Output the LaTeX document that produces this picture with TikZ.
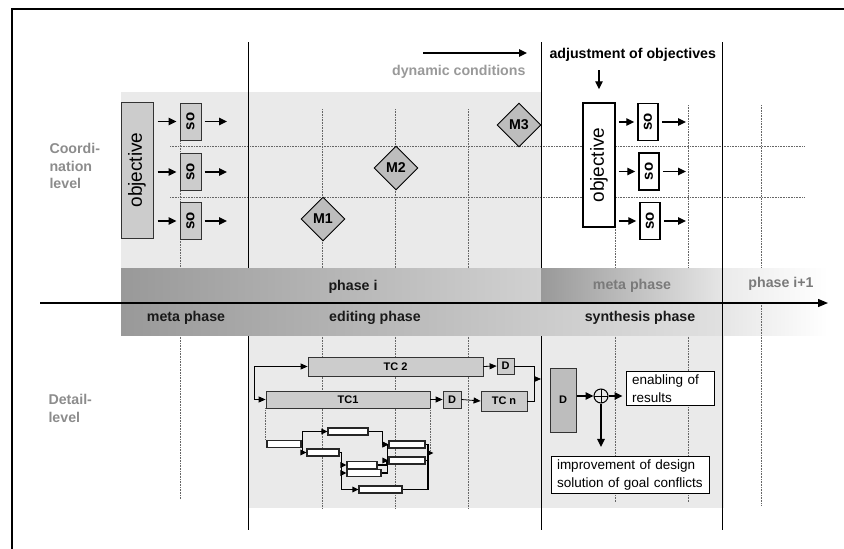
\documentclass[tikz,border=0pt]{standalone}
\usepackage{fontspec}
\setmainfont{Liberation Sans}
\usepackage{graphicx}
\usetikzlibrary{arrows.meta, positioning, shapes.geometric, calc}
\definecolor{bgfill}{HTML}{EAEAEA}
\definecolor{boxfill}{HTML}{CCCCCC}
\definecolor{mfill}{HTML}{BDBDBD}
\definecolor{bardark}{HTML}{999999}
\definecolor{labgray}{HTML}{8C8C8C}
\definecolor{metagray}{HTML}{7A7A7A}

\begin{document}
\begin{tikzpicture}[
    x=1pt, y=-1pt,
    >={Triangle[length=8pt, width=7.5pt]},
    every node/.style={font=\fontsize{13.5}{17}\selectfont},
    lbl/.style ={font=\bfseries\fontsize{14.2}{17.5}\selectfont},
    glbl/.style={lbl, text=labgray},
    obj/.style ={draw=black!80, line width=1pt, fill=boxfill, inner sep=0pt,
                 font=\fontsize{19}{19}\selectfont},
    sob/.style ={draw=black!80, line width=1pt, fill=boxfill, inner sep=0pt,
                 minimum width=21pt, minimum height=37pt,
                 font=\bfseries\fontsize{15}{15}\selectfont},
    ms/.style  ={draw, diamond, fill=mfill, line width=0.9pt, minimum size=44pt,
                 inner sep=0pt, lbl},
    tc/.style  ={draw=black!80, line width=0.8pt, fill=boxfill, inner sep=0pt,
                 font=\bfseries\fontsize{11}{12}\selectfont},
    res/.style ={draw, line width=1pt, fill=white, align=left, inner xsep=6pt,
                 inner ysep=3pt, font=\fontsize{13.5}{18.5}\selectfont},
    tk/.style  ={draw=black!85, line width=1.1pt, fill=white, minimum height=7pt,
                 inner sep=0pt},
    flow/.style={->, line width=1.3pt},
    tflow/.style={-{Triangle[length=7pt, width=6pt]}, line width=0.8pt},
    nflow/.style={-{Triangle[length=6pt, width=5.5pt]}, line width=1.3pt},
    net/.style ={line width=1.3pt},
    dotl/.style={densely dotted, line width=0.6pt, black!60},
    phase/.style={line width=1pt},
]
\useasboundingbox (0,0) rectangle (844,549);
\draw[line width=1.6pt] (12,549) -- (12,9) -- (844,9);

\fill[bgfill] (121,92) rectangle (541,268);
\fill[bgfill] (248,335) rectangle (724,508);

\foreach \x/\a/\b in {180/103/268, 322/109/268, 395/109/268, 468/109/268,
                      615/227/268, 688/105/268, 761/105/268,
                      180/335/499, 322/335/508, 395/335/508, 468/335/508,
                      615/335/502, 688/335/502}
  \draw[dotl] (\x,\a) -- (\x,\b);
\foreach \y in {146,197}
  \draw[dotl] (170,\y) -- (804,\y);

\coordinate (b1) at (248,42);
\coordinate (b2) at (541,42);
\coordinate (b3) at (722,42);
\foreach \b in {b1,b2}
  \draw[phase] (\b) -- ++(0,488);

\shade[left color=bardark, right color=black!18] (121,268) rectangle (541,303);
\shade[left color=bardark, right color=black!10] (541,268) rectangle (722,303);
\shade[left color=black!8, right color=white] (722,268) rectangle (828,303);
\shade[left color=bardark, middle color=black!18, right color=black!12] (121,303) rectangle (722,335);
\shade[left color=black!10, right color=white] (722,303) rectangle (828,335);
\draw[phase] (b3) -- ++(0,488);
\draw[dotl] (761,303) -- (761,505);

\coordinate (axS) at (40,303);
\coordinate (axE) at (828,303);
\draw[line width=1.3pt, -{Triangle[length=10pt, width=8pt]}] (axS) -- (axE);

\node[lbl, text=black!90] (phi)   at (353,287) {phase i};
\node[lbl, text=black!90] (metaL) at (186,318) {meta phase};
\node[lbl, text=black!90] (edit)  at (375,318) {editing phase};
\node[lbl, text=metagray] (metaR) at (632,286) {meta phase};
\node[lbl, text=metagray] (phn)   at (781,284) {phase i+1};
\node[lbl, text=black!90] (synth) at (640,318) {synthesis phase};

\node[glbl, anchor=north west, align=left] (coord) at (46,140) {Coordi-\\nation\\level};
\node[glbl, anchor=north west, align=left] (detl)  at (45,391) {Detail-\\level};

\node[glbl, anchor=base east, text=black!40] (dyn) at (529,75) {dynamic conditions};
\coordinate (dynS) at (423,53);
\coordinate (dynE) at (527,53);
\draw[flow] (dynS) -- (dynE);
\node[lbl, anchor=base west] (adj) at (546,58) {adjustment of objectives};

\node[obj, minimum width=32pt, minimum height=136pt] (objL) at (137,170) {\rotatebox{90}{objective}};
\node[sob] (soL1) at (190.5,121.5) {\rotatebox{90}{so}};
\node[sob] (soL2) at (190.5,172)   {\rotatebox{90}{so}};
\node[sob] (soL3) at (190.5,221)   {\rotatebox{90}{so}};
\node[obj, fill=white, draw=black, line width=1.5pt, minimum width=32pt,
      minimum height=124pt] (objR) at (599,165) {\rotatebox{90}{objective}};
\node[sob, fill=white, draw=black, line width=1.5pt, minimum width=20pt] (soR1) at (648,122)   {\rotatebox{90}{so}};
\node[sob, fill=white, draw=black, line width=1.5pt, minimum width=20pt] (soR2) at (649,171.5) {\rotatebox{90}{so}};
\node[sob, fill=white, draw=black, line width=1.5pt, minimum width=20pt] (soR3) at (650,221)   {\rotatebox{90}{so}};

\coordinate (endL) at (227,0);
\coordinate (endR) at (686,0);
\foreach \i in {1,2,3}{
  \draw[flow, shorten <=4pt, shorten >=3pt] (objL.east |- soL\i) -- (soL\i.west);
  \draw[flow, shorten <=3pt] (soL\i.east) -- (soL\i.east -| endL);
  \draw[flow, shorten <=3pt, shorten >=3pt] (objR.east |- soR\i) -- (soR\i.west);
  \draw[flow, shorten <=3pt] (soR\i.east) -- (soR\i.east -| endR);
}
\draw[flow, shorten <=6pt, shorten >=13pt] (adj.south -| objR) -- (objR.north);

\node[ms] (M1) at (323,219) {M1};
\node[ms] (M2) at (396,168) {M2};
\node[ms] (M3) at (519,125) {M3};

\node[tc, minimum width=175pt, minimum height=19pt] (TC2) at (395.5,366.5) {TC 2};
\node[tc, minimum width=164pt, minimum height=17pt] (TC1) at (348,399.5)   {TC1};
\node[tc, minimum width=17pt,  minimum height=16pt] (D2)  at (505.5,366)   {D};
\node[tc, minimum width=18pt,  minimum height=17pt] (D1)  at (452,399.5)   {D};
\node[tc, minimum width=46pt,  minimum height=20pt] (TCn) at (504,401)     {TC n};
\coordinate (tcs) at (254,382);
\draw[tflow] (tcs) |- (TC2.west);
\draw[tflow] (tcs) |- (TC1.west);
\draw[tflow] (TC2.east) -- (D2.west);
\draw[tflow] (TC1.east) -- (D1.west);
\draw[tflow] (D1.east) -- (TCn.west);
\coordinate (jn) at (534,379);
\draw[line width=0.8pt] (D2.east) -| (jn) (TCn.east) -| (jn);
\draw[tflow] (jn) -- (jn -| b2);

\node[tc, fill=mfill, line width=1pt, minimum width=26pt, minimum height=64pt] (Db) at (563,400) {D};
\node[circle, draw, line width=1pt, minimum size=14pt, inner sep=0pt,
      path picture={\draw[line width=1pt]
        (path picture bounding box.north) -- (path picture bounding box.south)
        (path picture bounding box.west) -- (path picture bounding box.east);}] (plus) at (601,396) {};
\node[res, text width=76pt]  (enab) at (670,388.5) {enabling of\\results};
\node[res, text width=146pt] (impr) at (630,475)   {improvement of design\\solution of goal conflicts};
\draw[flow] (Db.east |- plus) -- (plus.west);
\draw[flow, shorten >=3pt] (plus.east) -- (plus.east -| enab.west);
\draw[flow, shorten >=9pt] (plus.south) -- (plus.south |- impr.north);

\node[tk, minimum width=34pt] (na) at (284,444)   {};
\node[tk, minimum width=40pt] (nb) at (348,431.5) {};
\node[tk, minimum width=32pt] (nc) at (323,452.5) {};
\node[tk, minimum width=36pt] (nd) at (407,444.5) {};
\node[tk, minimum width=36pt] (ne) at (407,460.5) {};
\node[tk, minimum width=30pt] (nf) at (362,465)   {};
\node[tk, minimum width=34pt] (ng) at (364,473)   {};
\node[tk, minimum width=43pt] (nh) at (380.5,489.5) {};
\draw[dotl] (TC1.south west) -- (TC1.south west |- na.north);
\coordinate (nj) at (428,453);
\draw[dotl] (TC1.south east) -- (TC1.south east |- nj);
\draw[nflow] (na.east) -- ++(1,0) |- (nb.west);
\draw[nflow] (na.east) -- ++(1,0) |- (nc.west);
\draw[nflow] (nb.east) -- ++(14,0) |- (nd.west);
\draw[nflow] (nc.east) -- ++(2,0) |- (nf.west);
\draw[nflow] (nc.east) -- ++(2,0) |- (ng.west);
\draw[nflow] (nc.east) -- ++(2,0) |- (nh.west);
\draw[nflow] (nf.east) -- ++(9,0) |- (ne.west);
\draw[nflow] (ng.east) -- ++(6,0) |- (nd.west);
\draw[net] (nd.east) -| (nj) (ne.east) -| (nj) (nh.east) -| (nj);
\draw[nflow] (nj) -- ([xshift=3pt]nj -| TC1.east);
\end{tikzpicture}
\end{document}
